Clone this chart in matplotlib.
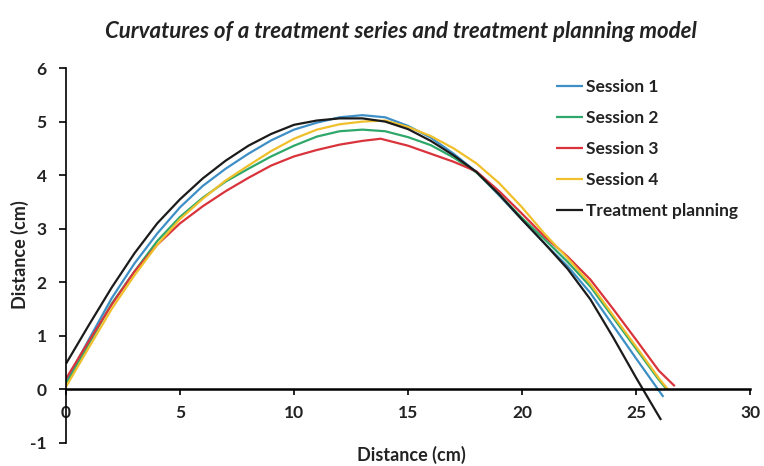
import matplotlib
matplotlib.use("Agg")
import matplotlib.pyplot as plt

# ---- data ----
x_tp = [0, 1, 2, 3, 4, 5, 6, 7, 8, 9, 10, 11, 12, 13, 14, 15, 16, 17, 18, 19, 20, 21, 22, 23, 24, 25, 26, 26.1]
y_tp = [0.48, 1.2, 1.9, 2.54, 3.1, 3.55, 3.94, 4.27, 4.55, 4.77, 4.94, 5.02, 5.06, 5.06, 5.0, 4.86, 4.64, 4.37, 4.06, 3.64, 3.17, 2.72, 2.25, 1.68, 0.97, 0.22, -0.5, -0.57]

x_s1 = [0, 1, 2, 3, 4, 5, 6, 7, 8, 9, 10, 11, 12, 13, 14, 15, 16, 17, 18, 19, 20, 21, 22, 23, 24, 25, 26, 26.2]
y_s1 = [0.15, 0.93, 1.7, 2.35, 2.91, 3.4, 3.8, 4.12, 4.4, 4.65, 4.85, 4.98, 5.08, 5.12, 5.08, 4.92, 4.7, 4.4, 4.06, 3.62, 3.17, 2.72, 2.3, 1.8, 1.19, 0.58, -0.02, -0.14]

x_s2 = [0, 1, 2, 3, 4, 5, 6, 7, 8, 9, 10, 11, 12, 13, 14, 15, 16, 17, 18, 19, 20, 21, 22, 23, 24, 25, 26, 26.35]
y_s2 = [0.1, 0.85, 1.6, 2.2, 2.77, 3.22, 3.58, 3.88, 4.12, 4.35, 4.55, 4.72, 4.82, 4.85, 4.82, 4.71, 4.56, 4.33, 4.05, 3.64, 3.2, 2.8, 2.38, 1.92, 1.34, 0.76, 0.18, 0.0]

x_s3 = [0, 1, 2, 3, 4, 5, 6, 7, 8, 9, 10, 11, 12, 13, 13.8, 15, 16, 17, 18, 19, 20, 21, 22, 23, 24, 25, 26, 26.7]
y_s3 = [0.2, 0.9, 1.58, 2.2, 2.7, 3.1, 3.42, 3.7, 3.95, 4.18, 4.35, 4.47, 4.57, 4.64, 4.68, 4.55, 4.4, 4.25, 4.07, 3.7, 3.28, 2.85, 2.48, 2.05, 1.5, 0.93, 0.35, 0.06]

x_s4 = [0, 1, 2, 3, 4, 5, 6, 7, 8, 9, 10, 11, 12, 13, 14, 15, 16, 17, 18, 19, 20, 21, 22, 23, 24, 25, 26, 26.4]
y_s4 = [0.05, 0.78, 1.5, 2.13, 2.7, 3.18, 3.56, 3.9, 4.18, 4.45, 4.68, 4.85, 4.95, 5.0, 5.02, 4.9, 4.73, 4.5, 4.22, 3.85, 3.4, 2.9, 2.45, 1.97, 1.38, 0.8, 0.21, 0.0]

labels = ["Session 1", "Session 2", "Session 3", "Session 4", "Treatment planning"]
colors = ["#3d8fc6", "#2ea86a", "#d9333b", "#f0c02c", "#1b1b1b"]
xticks = [0, 5, 10, 15, 20, 25, 30]
yticks = [-1, 0, 1, 2, 3, 4, 5, 6]

plt.rcParams['font.family'] = ['Lato', 'DejaVu Sans']
plt.rcParams['axes.unicode_minus'] = False

fig = plt.figure(figsize=(7.64, 4.66), dpi=100)
ax = fig.add_axes([0.0864, 0.0494, 0.8953, 0.8046])

series = [(x_s1, y_s1), (x_s2, y_s2), (x_s3, y_s3), (x_s4, y_s4), (x_tp, y_tp)]
for (xs, ys), lab, c in zip(series, labels, colors):
    ax.plot(xs, ys, color=c, lw=1.6, label=lab, solid_capstyle='butt', solid_joinstyle='round')

ax.set_xlim(0, 30)
ax.set_ylim(-1, 6)
ax.set_xticks(xticks)
ax.set_yticks(yticks)
ax.spines['top'].set_visible(False)
ax.spines['right'].set_visible(False)
ax.spines['left'].set_position(('data', 0))
ax.spines['bottom'].set_position(('data', 0))
ax.spines['bottom'].set_linewidth(1.8)
ax.spines['left'].set_linewidth(1.2)
ax.tick_params(axis='x', direction='out', length=4, width=1.2, pad=7, labelsize=12.5)
ax.tick_params(axis='y', direction='out', length=5, width=1.2, pad=9, labelsize=12.5)
for t in ax.get_xticklabels() + ax.get_yticklabels():
    t.set_fontweight('bold')
    t.set_color('#222222')

fig.text(0.538, 0.024, "Distance (cm)", ha='center', va='center', fontsize=13, fontweight='bold', color='#222222')
fig.text(0.026, 0.453, "Distance (cm)", ha='center', va='center', rotation=90, fontsize=13, fontweight='bold', color='#222222')
fig.text(0.525, 0.932, "Curvatures of a treatment series and treatment planning model",
         ha='center', va='center', fontsize=16, fontweight='bold', fontstyle='italic', color='#222222')

leg = ax.legend(loc='upper left', bbox_to_anchor=(0.693, 1.012), frameon=False,
                handlelength=1.6, handletextpad=0.15, labelspacing=0.86,
                prop={'size': 12.5, 'weight': 'bold'})
for t in leg.get_texts():
    t.set_color('#222222')

fig.savefig("out.png", dpi=100)
